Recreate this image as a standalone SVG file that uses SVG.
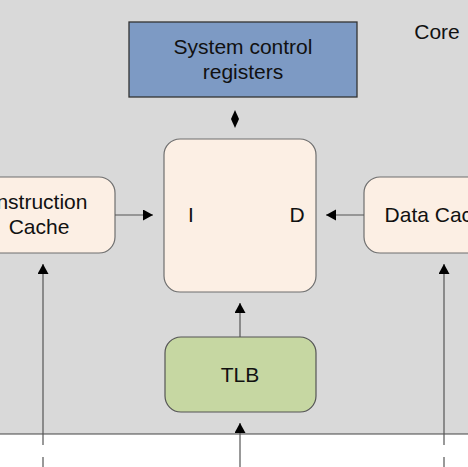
<svg xmlns="http://www.w3.org/2000/svg" width="468" height="467" viewBox="0 0 468 467">
  <defs>
    <marker id="arr" markerWidth="10" markerHeight="12" refX="10" refY="5.5" orient="auto" markerUnits="userSpaceOnUse">
      <path d="M0,0 L10,5.5 L0,11 Z" fill="#000"/>
    </marker>
  </defs>
  <style>
    .txt { font-family: "Liberation Sans", Arial, sans-serif; font-size: 21px; fill: #111; text-anchor: middle; }
    .box { fill: #fcefe4; stroke: #6f6f6f; stroke-width: 1.2; }
    .conn { stroke: #555; stroke-width: 1.2; fill: none; }
  </style>
  <rect x="0" y="0" width="468" height="434" fill="#d9d9d9"/>
  <rect x="0" y="434" width="468" height="33" fill="#ffffff"/>
  <line x1="0" y1="434" x2="468" y2="434" stroke="#444" stroke-width="1.2"/>

  <text class="txt" x="437" y="39">Core</text>

  <g id="sysregs">
    <rect x="129" y="22" width="228" height="75" fill="#7d9ac4" stroke="#333" stroke-width="1.3"/>
    <text class="txt" x="243" y="54">System control</text>
    <text class="txt" x="243" y="79">registers</text>
  </g>

  <g id="core">
    <rect class="box" x="164" y="139" width="152" height="153" rx="16" ry="16"/>
    <text class="txt" x="191" y="222">I</text>
    <text class="txt" x="297" y="222">D</text>
  </g>

  <g id="icache">
    <rect class="box" x="-37" y="177" width="152" height="76" rx="16" ry="16"/>
    <text class="txt" x="39" y="209">Instruction</text>
    <text class="txt" x="39" y="234">Cache</text>
  </g>

  <g id="dcache">
    <rect class="box" x="364" y="177" width="152" height="76" rx="16" ry="16"/>
    <text class="txt" x="440" y="222">Data Cache</text>
  </g>

  <g id="tlb">
    <rect x="165" y="337" width="151" height="75" rx="16" ry="16" fill="#c6d7a2" stroke="#555" stroke-width="1.2"/>
    <text class="txt" x="240" y="382">TLB</text>
  </g>

  <g id="connectors">
    <path d="M235,110 L239,119 L235,128 L231,119 Z" fill="#000"/>
    <line class="conn" x1="115" y1="215" x2="153" y2="215" marker-end="url(#arr)"/>
    <line class="conn" x1="364" y1="215" x2="326" y2="215" marker-end="url(#arr)"/>
    <line class="conn" x1="240" y1="337" x2="240" y2="303" marker-end="url(#arr)"/>
    <line class="conn" x1="240" y1="467" x2="240" y2="423" marker-end="url(#arr)"/>
    <line class="conn" x1="43" y1="445" x2="43" y2="264" marker-end="url(#arr)"/>
    <line class="conn" x1="43" y1="457" x2="43" y2="467"/>
    <line class="conn" x1="444" y1="445" x2="444" y2="264" marker-end="url(#arr)"/>
    <line class="conn" x1="444" y1="457" x2="444" y2="467"/>
  </g>
</svg>
